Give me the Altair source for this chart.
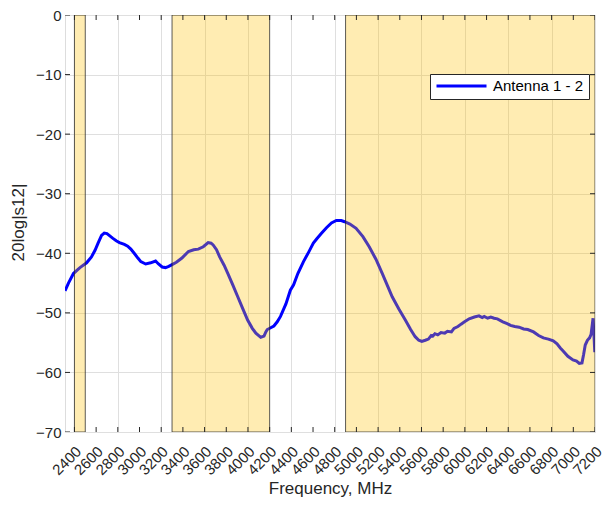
import altair as alt
import pandas as pd

# ---- data ----
freq = [2313, 2345, 2391, 2420, 2451, 2512, 2557, 2590, 2618, 2650, 2675, 2700,
        2755, 2785, 2815, 2860, 2891, 2920, 2951, 2985, 3012, 3057, 3103, 3148,
        3175, 3209, 3240, 3270, 3300, 3340, 3391, 3451, 3500, 3542, 3588, 3633,
        3660, 3679, 3710, 3739, 3780, 3815, 3860, 3906, 3950, 3997, 4040, 4073,
        4118, 4148, 4165, 4178, 4210, 4239, 4270, 4300, 4350, 4391, 4421, 4460,
        4512, 4560, 4603, 4633, 4680, 4724, 4770, 4815, 4860, 4891, 4940, 4997,
        5060, 5118, 5180, 5239, 5290, 5330, 5390, 5451, 5500, 5542, 5575, 5603,
        5635, 5664, 5690, 5705, 5724, 5750, 5780, 5815, 5840, 5876, 5900, 5936,
        5965, 5997, 6040, 6088, 6130, 6160, 6179, 6210, 6239, 6270, 6300, 6350,
        6390, 6421, 6460, 6500, 6542, 6580, 6633, 6680, 6724, 6770, 6815, 6850,
        6880, 6906, 6950, 6997, 7030, 7055, 7080, 7095, 7110, 7130, 7150, 7164,
        7175, 7182, 7190, 7198]
s12 = [-46.3, -45.0, -43.4, -42.9, -42.4, -41.6, -40.6, -39.5, -38.3, -37.0, -36.6, -36.7,
       -37.5, -37.9, -38.2, -38.5, -38.8, -39.3, -40.0, -40.8, -41.4, -41.8, -41.6, -41.3,
       -41.8, -42.3, -42.4, -42.2, -41.9, -41.5, -40.8, -39.7, -39.4, -39.3, -38.9, -38.2,
       -38.3, -38.6, -39.4, -40.6, -42.0, -43.4, -45.3, -47.3, -49.2, -51.2, -52.6, -53.4,
       -54.1, -53.9, -53.2, -52.8, -52.5, -52.2, -51.5, -50.6, -48.5, -46.2, -45.3, -43.4,
       -41.4, -39.8, -38.3, -37.6, -36.6, -35.7, -34.9, -34.5, -34.5, -34.7, -35.1, -35.8,
       -37.2, -38.9, -41.0, -43.4, -45.6, -47.3, -49.3, -51.2, -52.8, -54.0, -54.6, -54.8,
       -54.6, -54.4, -53.8, -53.9, -53.5, -53.7, -53.3, -53.4, -53.1, -53.2, -52.6, -52.3,
       -51.9, -51.5, -51.0, -50.7, -50.5, -50.8, -50.6, -50.9, -50.7, -50.9, -51.0, -51.5,
       -51.8, -52.1, -52.3, -52.4, -52.7, -52.8, -53.2, -53.8, -54.2, -54.4, -54.7, -55.2,
       -55.9, -56.4, -57.3, -57.9, -58.1, -58.5, -58.4, -57.0, -55.4, -54.6, -54.2, -53.6,
       -52.0, -50.9, -53.5, -56.6]
series_name = "Antenna 1 - 2"

band_start = [2400, 3300, 4900]
band_end = [2500, 4200, 7200]

x_ticks = [2400, 2600, 2800, 3000, 3200, 3400, 3600, 3800, 4000, 4200, 4400, 4600,
           4800, 5000, 5200, 5400, 5600, 5800, 6000, 6200, 6400, 6600, 6800, 7000, 7200]
y_ticks = [0, -10, -20, -30, -40, -50, -60, -70]
x_domain = [2313, 7200]
y_domain = [-70, 0]

FONT = "Liberation Sans"
TXT = "#262626"

df = pd.DataFrame({"f": freq, "v": s12, "series": series_name})
bands = pd.DataFrame({"start": band_start, "end": band_end})
xt = pd.DataFrame({"t": x_ticks})
yt = pd.DataFrame({"t": y_ticks})

xscale = alt.Scale(domain=x_domain, nice=False, zero=False)
yscale = alt.Scale(domain=y_domain, nice=False, zero=False)

x_axis = alt.Axis(values=x_ticks, title="Frequency, MHz", labels=False,
                  ticks=False, tickSize=0, domain=False, grid=True,
                  gridColor="#dfdfdf", gridWidth=1,
                  titleFontSize=17, titleFontWeight="normal",
                  titleColor=TXT, titleX=265, titleY=61, titleAlign="center",
                  titleBaseline="alphabetic", titleFont=FONT)
y_axis = alt.Axis(values=y_ticks, title="20log|s12|", ticks=False, tickSize=0,
                  domain=False, grid=True, gridColor="#dfdfdf", gridWidth=1,
                  labelPadding=4, labelFontSize=15, labelColor=TXT,
                  labelOverlap=False, labelFlush=False,
                  titleFontSize=17, titleFontWeight="normal", titleColor=TXT,
                  titleAngle=270, titleX=-42, titleY=207, titleAlign="center",
                  titleBaseline="alphabetic", labelFont=FONT, titleFont=FONT)

line = alt.Chart(df).mark_line(strokeWidth=3, clip=True).encode(
    x=alt.X("f:Q", scale=xscale, axis=x_axis),
    y=alt.Y("v:Q", scale=yscale, axis=y_axis),
    color=alt.Color("series:N",
                    scale=alt.Scale(domain=[series_name], range=["#0000ff"]),
                    legend=alt.Legend(orient="none", legendX=365, legendY=59,
                                      title=None, symbolType="stroke",
                                      symbolSize=2500, symbolStrokeWidth=3,
                                      clipHeight=14,
                                      labelFontSize=15, labelFont=FONT,
                                      labelColor="#000000", padding=5,
                                      fillColor="white", strokeColor=TXT,
                                      labelOffset=5)),
)

band_layer = alt.Chart(bands).mark_rect(
    color="#FFBF00", fillOpacity=0.3, stroke="#262626", strokeOpacity=0.75,
    strokeWidth=1, clip=True
).encode(
    x=alt.X("start:Q", scale=xscale),
    x2="end:Q",
    y=alt.Y(datum=y_domain[1], scale=yscale),
    y2=alt.Y2(datum=y_domain[0]),
)

tick_style = dict(color=TXT, thickness=1, size=10, clip=True, opacity=1)
bottom_ticks = alt.Chart(xt).mark_tick(orient="vertical", **tick_style).encode(
    x=alt.X("t:Q", scale=xscale), y=alt.Y(datum=y_domain[0]))
top_ticks = alt.Chart(xt).mark_tick(orient="vertical", **tick_style).encode(
    x=alt.X("t:Q", scale=xscale), y=alt.Y(datum=y_domain[1]))
left_ticks = alt.Chart(yt).mark_tick(orient="horizontal", **tick_style).encode(
    y=alt.Y("t:Q", scale=yscale), x=alt.X(datum=x_domain[0]))
right_ticks = alt.Chart(yt).mark_tick(orient="horizontal", **tick_style).encode(
    y=alt.Y("t:Q", scale=yscale), x=alt.X(datum=x_domain[1]))

# rotated x tick labels (offsets given in the rotated text frame)
x_labels = alt.Chart(xt).mark_text(
    angle=315, align="right", baseline="middle", dx=-9.0, dy=15.0,
    fontSize=15, font=FONT, color=TXT
).encode(
    x=alt.X("t:Q", scale=xscale),
    y=alt.Y(datum=y_domain[0]),
    text=alt.Text("t:Q", format="d"),
)

chart = alt.layer(line, band_layer, bottom_ticks, top_ticks, left_ticks,
                  right_ticks, x_labels).properties(
    width=530, height=417, autosize="none",
    padding={"left": 57, "top": 7, "right": 10, "bottom": 65},
).configure_view(stroke="#404040", strokeWidth=1).configure(font=FONT).configure_axis(
    labelOverlap=False, labelFlush=False)

chart.save("out.html", embed_options={"renderer": "svg", "actions": False})
